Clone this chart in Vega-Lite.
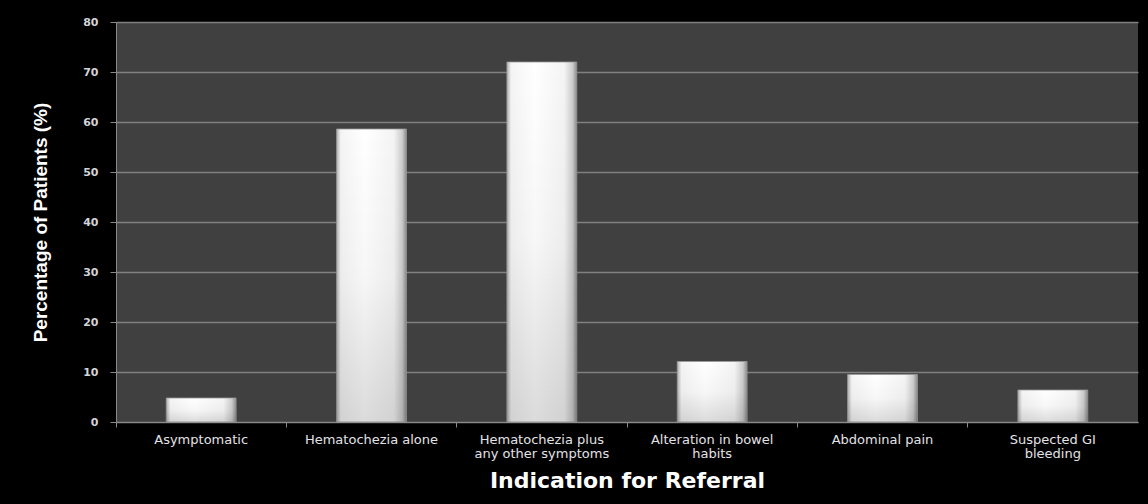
{
  "$schema": "https://vega.github.io/schema/vega-lite/v6.json",
  "width": 1022,
  "height": 400,
  "autosize": {"type": "none"},
  "padding": {"left": 116, "top": 22, "right": 10, "bottom": 82},
  "background": "#000000",
  "data": {
    "values": [
      {"indication": "Asymptomatic", "pct": 4.8},
      {"indication": "Hematochezia alone", "pct": 58.6},
      {"indication": "Hematochezia plus any other symptoms", "pct": 72.0},
      {"indication": "Alteration in bowel habits", "pct": 12.1},
      {"indication": "Abdominal pain", "pct": 9.5},
      {"indication": "Suspected GI bleeding", "pct": 6.4}
    ]
  },
  "encoding": {
    "x": {
      "field": "indication",
      "type": "nominal",
      "sort": null,
      "scale": {"paddingInner": 0, "paddingOuter": 0},
      "axis": {
        "title": "Indication for Referral",
        "titleFont": "DejaVu Sans",
        "titleFontWeight": "bold",
        "titleFontSize": 22,
        "titleColor": "#ffffff",
        "titleBaseline": "alphabetic",
        "titleY": 65,
        "labelAngle": 0,
        "labelFont": "DejaVu Sans",
        "labelFontSize": 13,
        "labelColor": "#e2e2e8",
        "labelPadding": 6,
        "labelLineHeight": 14,
        "labelBaseline": "top",
        "labelExpr": "datum.value == 'Hematochezia plus any other symptoms' ? ['Hematochezia plus', 'any other symptoms'] : datum.value == 'Alteration in bowel habits' ? ['Alteration in  bowel', 'habits'] : datum.value == 'Suspected GI bleeding' ? ['Suspected GI', 'bleeding'] : datum.value",
        "bandPosition": 0,
        "ticks": true,
        "tickColor": "#8a8a8a",
        "tickSize": 5,
        "domainColor": "#8a8a8a",
        "domainWidth": 1,
        "grid": false
      }
    },
    "y": {
      "field": "pct",
      "type": "quantitative",
      "scale": {"domain": [0, 80], "nice": false},
      "axis": {
        "title": "Percentage of Patients (%)",
        "titleFont": "Liberation Sans",
        "titleFontWeight": "bold",
        "titleFontSize": 19,
        "titleColor": "#ffffff",
        "titleAngle": -90,
        "titleAlign": "center",
        "titleBaseline": "middle",
        "titleX": -76,
        "titleY": 200,
        "values": [0, 10, 20, 30, 40, 50, 60, 70, 80],
        "labelFont": "DejaVu Sans",
        "labelFontWeight": "bold",
        "labelFontSize": 11,
        "labelColor": "#d4d4d8",
        "labelPadding": 12,
        "tickColor": "#8a8a8a",
        "tickSize": 6,
        "domainColor": "#8a8a8a",
        "gridColor": "#808080",
        "gridWidth": 1.5
      }
    }
  },
  "layer": [
    {
      "mark": {
        "type": "bar",
        "width": {"band": 0.41},
        "stroke": "#9a9a9a",
        "strokeWidth": 0.8,
        "color": {
          "gradient": "linear",
          "x1": 0, "y1": 0, "x2": 1, "y2": 0,
          "stops": [
            {"offset": 0, "color": "#b0b0b0"},
            {"offset": 0.06, "color": "#f4f4f4"},
            {"offset": 0.4, "color": "#ffffff"},
            {"offset": 0.82, "color": "#f4f4f4"},
            {"offset": 0.94, "color": "#cccccc"},
            {"offset": 1, "color": "#8c8c8c"}
          ]
        }
      }
    },
    {
      "mark": {
        "type": "bar",
        "width": {"band": 0.41},
        "color": {
          "gradient": "linear",
          "x1": 0, "y1": 0, "x2": 0, "y2": 1,
          "stops": [
            {"offset": 0, "color": "rgba(0,0,0,0)"},
            {"offset": 0.5, "color": "rgba(0,0,0,0.03)"},
            {"offset": 1, "color": "rgba(0,0,0,0.14)"}
          ]
        }
      }
    }
  ],
  "config": {
    "view": {"fill": "#404040", "stroke": null},
    "axis": {"gridOpacity": 1}
  }
}
